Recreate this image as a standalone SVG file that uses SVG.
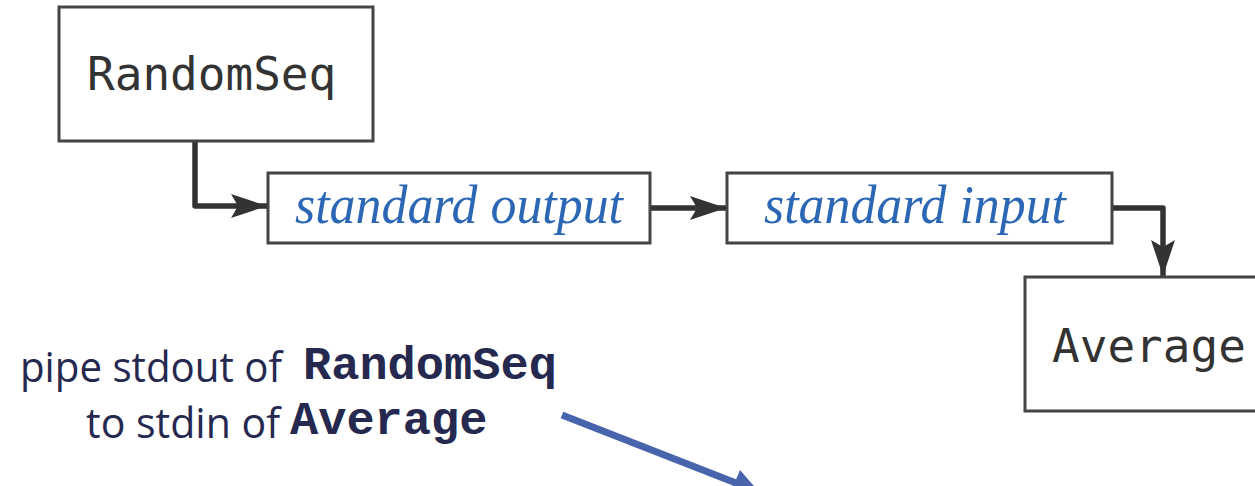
<svg xmlns="http://www.w3.org/2000/svg" width="1255" height="486" viewBox="0 0 1255 486">
  <defs>
    <style>
      .box { fill: #ffffff; stroke: #444444; stroke-width: 3; }
      .mono { font-family: "DejaVu Sans Mono", monospace; font-size: 46px; fill: #333333; }
      .stream { font-family: "Liberation Serif", serif; font-style: italic; font-size: 54px; fill: #2b67b4; }
      .wire { fill: none; stroke: #333333; stroke-width: 5.5; stroke-linejoin: round; }
      .note { font-family: "Open Sans", "Liberation Sans", sans-serif; font-size: 42px; fill: #25284f; }
      .code { font-family: "Courier New", "Nimbus Mono PS", "Liberation Mono", monospace; font-weight: bold; font-size: 47px; fill: #25284f; }
    </style>
    <!-- filled arrowhead with a shallow notch at the back -->
    <marker id="head" markerUnits="userSpaceOnUse" markerWidth="40" markerHeight="26" refX="36" refY="12" orient="auto" overflow="visible">
      <path d="M0,0 L36,12 L0,24 L7,12 Z" fill="#333333"/>
    </marker>
  </defs>

  <rect width="1255" height="486" fill="#ffffff"/>

  <!-- connectors -->
  <g id="connectors">
    <path class="wire" d="M195,141 V206 H267" marker-end="url(#head)"/>
    <path class="wire" d="M651,208 H726" marker-end="url(#head)"/>
    <path class="wire" d="M1113,208 H1163 V276" marker-end="url(#head)"/>
  </g>

  <g id="randomseq">
    <rect class="box" x="59" y="7" width="314" height="134"/>
    <text class="mono" x="87" y="90">RandomSeq</text>
  </g>

  <g id="stdout">
    <rect class="box" x="268" y="173" width="382" height="70"/>
    <text class="stream" x="295" y="223" textLength="328" lengthAdjust="spacingAndGlyphs">standard output</text>
  </g>

  <g id="stdin">
    <rect class="box" x="727" y="173" width="385" height="70"/>
    <text class="stream" x="764" y="223" textLength="302" lengthAdjust="spacingAndGlyphs">standard input</text>
  </g>

  <g id="average">
    <rect class="box" x="1025" y="277" width="245" height="134"/>
    <text class="mono" x="1052" y="362">Average</text>
  </g>

  <g id="caption">
    <text class="note" x="20" y="382" textLength="262" lengthAdjust="spacingAndGlyphs">pipe stdout of</text>
    <text class="code" x="303" y="379">RandomSeq</text>
    <text class="note" x="86" y="438" textLength="194" lengthAdjust="spacingAndGlyphs">to stdin of</text>
    <text class="code" x="290" y="434">Average</text>
  </g>

  <g id="pointer">
    <line x1="562" y1="415" x2="736" y2="483" stroke="#4864ad" stroke-width="7"/>
    <polygon points="760,493 729,496 740,470" fill="#4864ad"/>
  </g>
</svg>
